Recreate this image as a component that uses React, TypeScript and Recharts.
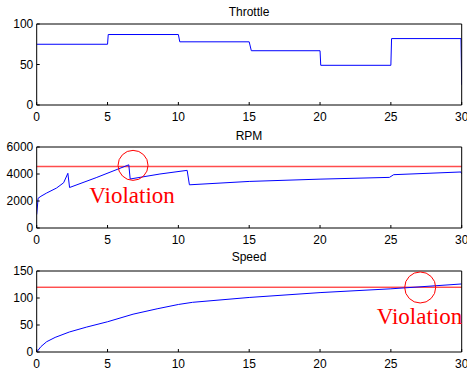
import React from 'react';
import { LineChart, Line, XAxis, YAxis, ReferenceLine, ReferenceDot } from 'recharts';

// time ticks shared by all three plots
const timeTicks = [0, 5, 10, 15, 20, 25, 30];

// Throttle (%)
const throttleT = [0, 5, 5.05, 10, 10.1, 15, 15.15, 20, 20.05, 25, 25.05, 29.95, 30];
const throttleV = [75, 75, 87, 87, 78, 78, 67, 67, 49, 49, 82, 82, 25];
const throttleTicks = [0, 50, 100];

// Engine RPM
const rpmT = [0, 0.1, 0.3, 0.7, 1.4, 1.9, 2.2, 2.32, 4.2, 6.5, 6.6, 8.7, 10.62, 10.78, 15, 20, 24.9, 25.2, 29.95, 30];
const rpmV = [1000, 2200, 2350, 2590, 2960, 3350, 4050, 3000, 3730, 4680, 3630, 4000, 4270, 3200, 3450, 3620, 3750, 3950, 4150, 4000];
const rpmTicks = [0, 2000, 4000, 6000];
const rpmLimit = 4550;
const rpmViolation = { t: 6.8, v: 4640 };

// Vehicle speed
const speedT = [0, 0.3, 0.7, 1.3, 2.3, 3.5, 5, 6.8, 8.5, 10, 11, 15, 20, 25, 30];
const speedV = [0, 10, 19, 27, 37, 46, 56, 70, 80, 88, 92, 101, 110, 117, 126];
const speedTicks = [0, 50, 100, 150];
const speedLimit = 120;
const speedViolation = { t: 27.07, v: 119.5 };

const toRows = (ts: number[], vs: number[]) => ts.map((t, i) => ({ t, v: vs[i] }));

const BLUE = '#0000ff';
const RED = '#ff0000';
const FONT = '"Liberation Sans", Arial, Helvetica, sans-serif';
const tickStyle = { fill: '#000', fontSize: 12, fontFamily: FONT };
const axisLine = { stroke: '#000', strokeWidth: 1 };

interface PanelProps {
  top: number;
  rows: { t: number; v: number }[];
  yTicks: number[];
  children?: React.ReactNode;
}

// one MATLAB-style subplot: boxed axes, inward ticks mirrored on top/right
const Panel: React.FC<PanelProps> = ({ top, rows, yTicks, children }) => {
  const yDomain = [yTicks[0], yTicks[yTicks.length - 1]];
  return (
    <div style={{ position: 'absolute', left: 0, top: top - 24 }}>
      <LineChart width={467} height={125} data={rows} margin={{ top: 23, right: 4.3, bottom: 0, left: 0 }}>
        <XAxis
          dataKey="t"
          type="number"
          domain={[0, 30]}
          ticks={timeTicks}
          interval={0}
          height={20}
          tickSize={-3}
          tickMargin={10}
          tick={tickStyle}
          axisLine={axisLine}
          tickLine={axisLine}
          allowDataOverflow
        />
        <XAxis
          xAxisId="top"
          orientation="top"
          dataKey="t"
          type="number"
          domain={[0, 30]}
          ticks={timeTicks}
          interval={0}
          height={1}
          tickSize={-3}
          tick={false}
          axisLine={axisLine}
          tickLine={axisLine}
          allowDataOverflow
        />
        <YAxis
          type="number"
          domain={yDomain}
          ticks={yTicks}
          interval={0}
          width={36.7}
          tickSize={-3}
          tickMargin={6.4}
          tick={tickStyle}
          axisLine={axisLine}
          tickLine={axisLine}
          allowDataOverflow
        />
        <YAxis
          yAxisId="right"
          orientation="right"
          type="number"
          domain={yDomain}
          ticks={yTicks}
          interval={0}
          width={1}
          tickSize={-3}
          tick={false}
          axisLine={axisLine}
          tickLine={axisLine}
          allowDataOverflow
        />
        {children}
        <Line dataKey="v" type="linear" stroke={BLUE} strokeWidth={1} dot={false} isAnimationActive={false} />
      </LineChart>
    </div>
  );
};

const titleStyle = (top: number): React.CSSProperties => ({
  position: 'absolute',
  left: 149,
  width: 200,
  top,
  textAlign: 'center',
  fontFamily: FONT,
  fontSize: 12,
  lineHeight: '12px',
  color: '#000',
});

const violationStyle = (left: number, top: number): React.CSSProperties => ({
  position: 'absolute',
  left,
  top,
  fontFamily: '"Liberation Serif", "Times New Roman", serif',
  fontSize: 23,
  lineHeight: '23px',
  color: RED,
  whiteSpace: 'nowrap',
});

export default function App() {
  return (
    <div style={{ position: 'absolute', left: 0, top: 0, width: 467, height: 369, overflow: 'hidden', background: '#fff' }}>
      <div style={titleStyle(5.8)}>Throttle</div>
      <Panel top={24} rows={toRows(throttleT, throttleV)} yTicks={throttleTicks} />

      <div style={titleStyle(129.8)}>RPM</div>
      <Panel top={147.3} rows={toRows(rpmT, rpmV)} yTicks={rpmTicks}>
        <ReferenceLine y={rpmLimit} stroke={RED} strokeWidth={1.5} strokeOpacity={0.7} />
        <ReferenceDot x={rpmViolation.t} y={rpmViolation.v} r={15} fill="none" stroke={RED} strokeWidth={1} />
      </Panel>
      <div style={violationStyle(89.3, 184.2)}>Violation</div>

      <div style={titleStyle(250.8)}>Speed</div>
      <Panel top={270.5} rows={toRows(speedT, speedV)} yTicks={speedTicks}>
        <ReferenceLine y={speedLimit} stroke={RED} strokeWidth={1} />
        <ReferenceDot x={speedViolation.t} y={speedViolation.v} r={15.5} fill="none" stroke={RED} strokeWidth={1} />
      </Panel>
      <div style={violationStyle(376.7, 304.7)}>Violation</div>
    </div>
  );
}
